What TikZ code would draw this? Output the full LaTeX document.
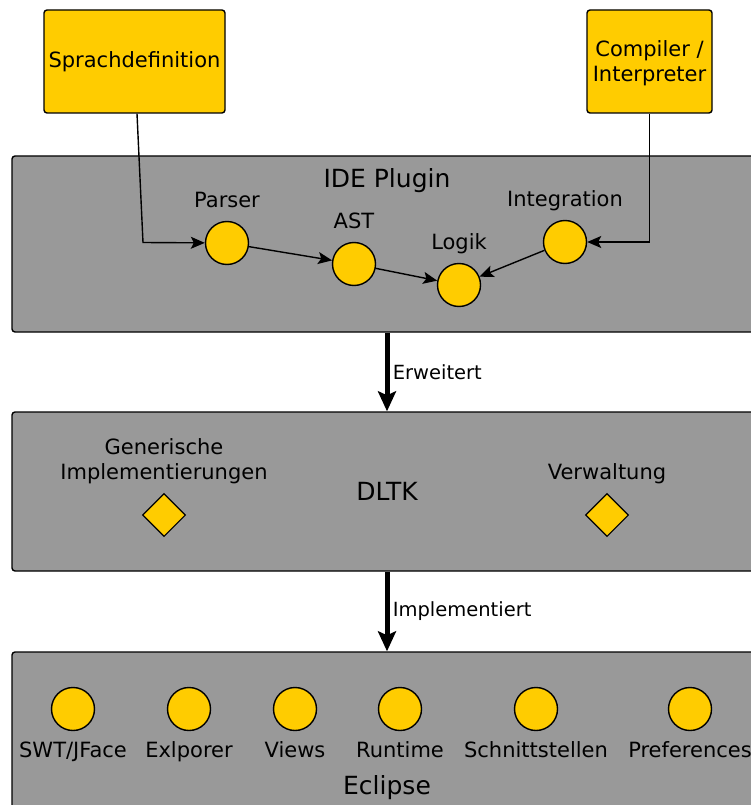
\documentclass[tikz,border=0pt]{standalone}
\usepackage{fontspec}
\setmainfont{DejaVu Sans}
\usetikzlibrary{positioning,arrows.meta,shapes.geometric}
\definecolor{gold}{HTML}{FFCC00}
\definecolor{panelgray}{HTML}{999999}

\begin{document}
\begin{tikzpicture}[x=1pt, y=-1pt, font=\fontsize{21}{25}\selectfont,
        panel/.style = {draw, fill=panelgray, rounded corners=3pt, line width=1.4pt, minimum width=750pt},
        box/.style = {draw, fill=gold, rounded corners=3pt, line width=1.4pt, minimum height=103pt, align=center, inner sep=0pt},
        comp/.style = {draw, circle, fill=gold, line width=1.4pt, minimum size=43pt, inner sep=0pt},
        iface/.style = {draw, diamond, fill=gold, line width=1.1pt, minimum width=43pt, minimum height=43pt, inner sep=0pt},
        flow/.style = {-{Stealth[length=14pt,width=12pt,inset=3pt]}, line width=1.4pt},
        uses/.style = {-{Stealth[length=20pt,width=18pt,inset=4pt]}, line width=5pt},
        title/.style = {font=\fontsize{25}{30}\selectfont},
        every label/.style = {text depth=0pt, text height=15pt, align=center}]
    \clip (0,0) rectangle (751,805);

    % top boxes
    \node[box, minimum width=181pt] (sprach) at (134.5,61.5) {Sprachdefinition};
    \node[box, minimum width=125pt] (compiler) at (649.5,61.5) {\rule{0pt}{20pt}Compiler /\\Interpreter};

    % IDE Plugin
    \node[panel, minimum height=176pt] (ide) at (387,244) {};
    \node[title] (idetitle) at (387,180.5) {IDE Plugin};
    \node[comp, label={[label distance=10pt]above:Parser}] (parser) at (227,243) {};
    \node[comp, label={[label distance=10pt]above:AST}] (ast) at (354,264) {};
    \node[comp, label={[label distance=10pt]above:Logik}] (logik) at (459,285) {};
    \node[comp, label={[label distance=10pt]above:Integration}] (integ) at (565,242) {};
    \coordinate (bend) at (143,242.5);
    \draw[flow] ([xshift=2.5pt]sprach.south) -- (bend) -- (parser);
    \draw[flow] (compiler.south) |- (integ);
    \draw[flow] (parser) -- (ast);
    \draw[flow] (ast) -- (logik);
    \draw[flow] (integ) -- (logik);

    % DLTK
    \node[panel, minimum height=159pt, title] (dltk) at (387,491.5) {DLTK};
    \node[iface, label={[label distance=10pt]above:Generische\\Implementierungen}] (generic) at (164,515) {};
    \node[iface, label={[label distance=10pt]above:Verwaltung}] (verw) at (607,515) {};

    % Eclipse
    \node[panel, minimum height=180pt] (eclipse) at (387,742) {};
    \node[title] (ectitle) at (387,788) {Eclipse};
    \node[comp, label={[label distance=8pt]below:SWT/JFace}] (swt) at (73,709) {};
    \node[comp, label={[label distance=8pt]below:Exlporer}] (explorer) at (189,709) {};
    \node[comp, label={[label distance=8pt]below:Views}] (views) at (295,709) {};
    \node[comp, label={[label distance=8pt]below:Runtime}] (runtime) at (400,709) {};
    \node[comp, label={[label distance=8pt]below:Schnittstellen}] (schnitt) at (536,709) {};
    \node[comp, label={[label distance=8pt]below:Preferences}] (prefs) at (690,709) {};

    \draw[uses] (ide) -- (dltk) node[midway, anchor=west, font=\fontsize{19.5}{24}\selectfont] {Erweitert};
    \draw[uses] (dltk) -- (eclipse) node[midway, anchor=west, font=\fontsize{19.5}{24}\selectfont] {Implementiert};
\end{tikzpicture}
\end{document}
